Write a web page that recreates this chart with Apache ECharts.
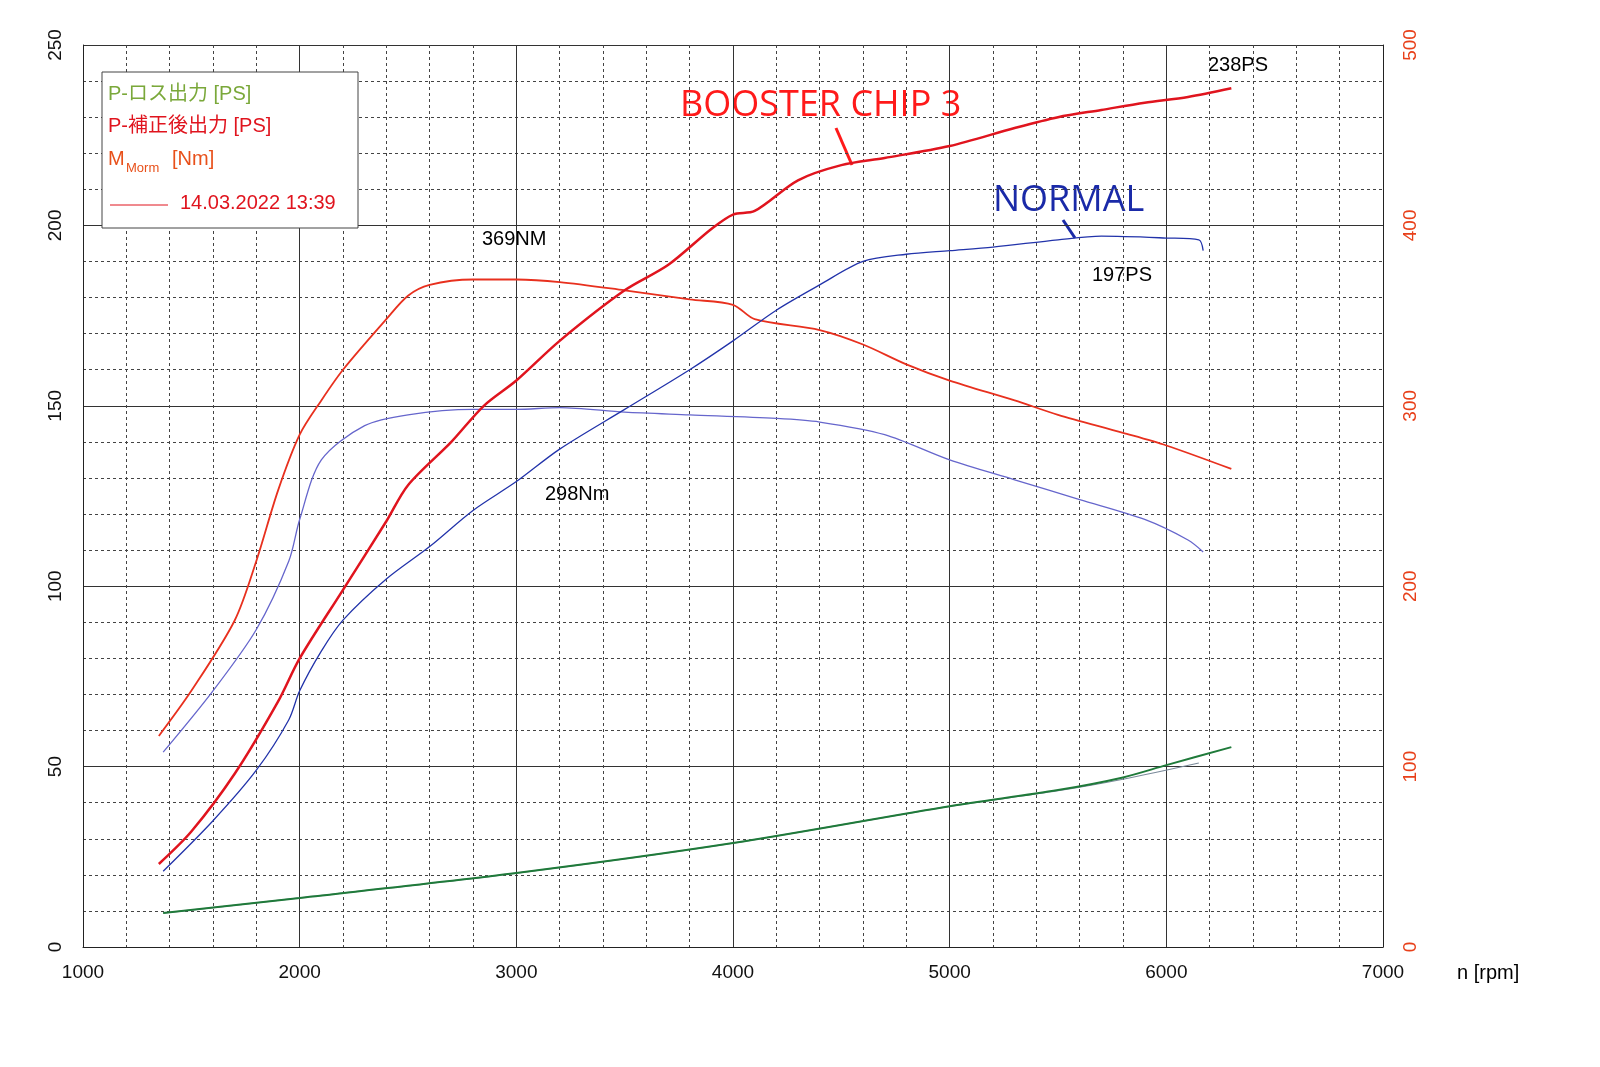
<!DOCTYPE html>
<html><head><meta charset="utf-8">
<script src="https://cdn.jsdelivr.net/npm/echarts@6/dist/echarts.min.js"></script>
<style>html,body{margin:0;background:#fff}#c{width:1600px;height:1067px}</style>
</head><body><div id="c"></div>
<script>
// rpm, value pairs read from the dyno sheet
var boostPower = [[1350,23],[1500,32],[1700,48],[1900,68],[2000,80],[2200,99],[2400,118],[2500,128],[2700,140],[2850,150],[3000,157],[3200,168],[3500,182],[3700,189],[3900,199],[4000,203],[4100,204],[4300,212.5],[4500,216.7],[4700,218.7],[5000,222],[5300,227],[5500,230],[5700,232],[5900,234],[6100,235.6],[6300,238]];
var normalPower = [[1370,21],[1600,35],[1800,49],[1950,63],[2000,71],[2100,82],[2200,90.6],[2400,102],[2600,111],[2800,121],[3000,129],[3200,138],[3500,149],[3800,160],[4000,168],[4200,176.5],[4400,183.5],[4600,190],[4800,192],[5000,193],[5200,194],[5500,196],[5700,197],[6000,196.5],[6150,196],[6170,193]];
var boostTorque = [[1350,117],[1500,142],[1700,181],[1800,214],[1900,253],[2000,284],[2100,303],[2200,320],[2400,348],[2500,361],[2600,367],[2800,370],[3000,370],[3200,368.6],[3500,364],[3800,359],[4000,356],[4100,348],[4400,342],[4600,334],[4800,323],[5000,314],[5300,303],[5500,295],[5800,285],[6000,278],[6300,265]];
var normalTorque = [[1370,108],[1600,142],[1800,176],[1950,214],[2000,237],[2100,270],[2300,289],[2500,295],[2800,298],[3000,298],[3200,299],[3500,296.5],[3800,295],[4200,293],[4400,291],[4700,284],[5000,270],[5300,259],[5600,248],[5900,237],[6100,225.6],[6170,219]];
var lossBoost = [[1370,9.4],[2000,13.6],[3000,20.5],[4000,28.8],[5000,39],[5500,43.5],[5800,47],[6000,50.4],[6300,55.4]];
var lossNormal = [[1370,9.4],[2000,13.6],[3000,20.5],[4000,28.8],[5000,39],[5500,43.3],[5800,46.5],[6150,51]];

var chart = echarts.init(document.getElementById('c'));
var dash = {show:true, lineStyle:{color:'#444', type:[3,3], width:1}};
function line(name, data, color, width, yi){
  return {name:name, type:'line', data:data, yAxisIndex:yi, smooth:0.3, symbol:'none',
    lineStyle:{color:color, width:width}, z:yi===0?3:2};
}
var txt = function(x,y,t,c,s){return {type:'text', left:x, top:y, style:{text:t, fill:c||'#000', font:(s||20)+'px "Liberation Sans", Arial'}};};
chart.setOption({
  animation:false,
  grid:{left:83, right:217, top:45, bottom:120},
  xAxis:{type:'value', min:1000, max:7000, interval:1000,
    axisLine:{lineStyle:{color:'#222'}}, axisTick:{show:false},
    axisLabel:{color:'#111', fontSize:19, margin:16, fontFamily:'Liberation Sans', formatter:function(v){return String(v);}},
    splitLine:{lineStyle:{color:'#333', width:1}},
    minorTick:{show:false, splitNumber:5}, minorSplitLine:dash},
  yAxis:[
    {type:'value', min:0, max:250, interval:50,
     axisLine:{show:true, lineStyle:{color:'#222'}}, axisTick:{show:false},
     axisLabel:{color:'#111', fontSize:19, rotate:90, margin:18, fontFamily:'Liberation Sans'},
     splitLine:{lineStyle:{color:'#333'}}, minorTick:{show:false, splitNumber:5}, minorSplitLine:dash},
    {type:'value', min:0, max:500, interval:100, position:'right',
     axisLine:{show:true, lineStyle:{color:'#222'}}, axisTick:{show:false},
     axisLabel:{color:'#e8401a', fontSize:19, rotate:90, margin:18, fontFamily:'Liberation Sans'},
     splitLine:{show:false}}
  ],
  series:[
    line('boostPower', boostPower, '#e0141e', 2.5, 0),
    line('normalPower', normalPower, '#2233aa', 1.3, 0),
    line('boostTorque', boostTorque, '#e8301e', 1.8, 1),
    line('normalTorque', normalTorque, '#6666cc', 1.3, 1),
    line('lossNormal', lossNormal, '#7a8a9a', 1.2, 0),
    line('lossBoost', lossBoost, '#1f7a3a', 2, 0)
  ],
  graphic:[
    {type:'rect', shape:{x:102, y:72, width:256, height:156}, style:{fill:'#fff', stroke:'#444', lineWidth:1}, z:10},
    {type:'text', left:108, top:84, z:11, style:{text:'P-ロス出力 [PS]', fill:'#7aa83a', font:'20px "Liberation Sans", "Noto Sans CJK JP"'}},
    {type:'text', left:108, top:116, z:11, style:{text:'P-補正後出力 [PS]', fill:'#e0141e', font:'20px "Liberation Sans", "Noto Sans CJK JP"'}},
    {type:'text', left:108, top:149, z:11, style:{text:'M', fill:'#e8501a', font:'20px "Liberation Sans"'}},
    {type:'text', left:126, top:162, z:11, style:{text:'Morm', fill:'#e8501a', font:'13px "Liberation Sans"'}},
    {type:'text', left:172, top:149, z:11, style:{text:'[Nm]', fill:'#e8501a', font:'20px "Liberation Sans"'}},
    {type:'line', z:11, shape:{x1:110, y1:205, x2:168, y2:205}, style:{stroke:'#e0141e', lineWidth:1}},
    {type:'text', left:180, top:193, z:11, style:{text:'14.03.2022 13:39', fill:'#e0141e', font:'20px "Liberation Sans"'}},
    {type:'text', left:680, top:88, style:{text:'BOOSTER CHIP 3', fill:'#ff1a1a', font:'36px "Open Sans"'}},
    {type:'line', shape:{x1:836, y1:128, x2:852, y2:165}, style:{stroke:'#ff1a1a', lineWidth:3}},
    {type:'text', left:993, top:183, style:{text:'NORMAL', fill:'#1a2aa8', font:'36px "Open Sans"'}},
    {type:'line', shape:{x1:1063, y1:220, x2:1075, y2:238}, style:{stroke:'#1a2aa8', lineWidth:3}},
    txt(482,229,'369NM'), txt(545,484,'298Nm'), txt(1208,55,'238PS'), txt(1092,265,'197PS'),
    txt(1457,963,'n [rpm]')
  ]
});
</script></body></html>
